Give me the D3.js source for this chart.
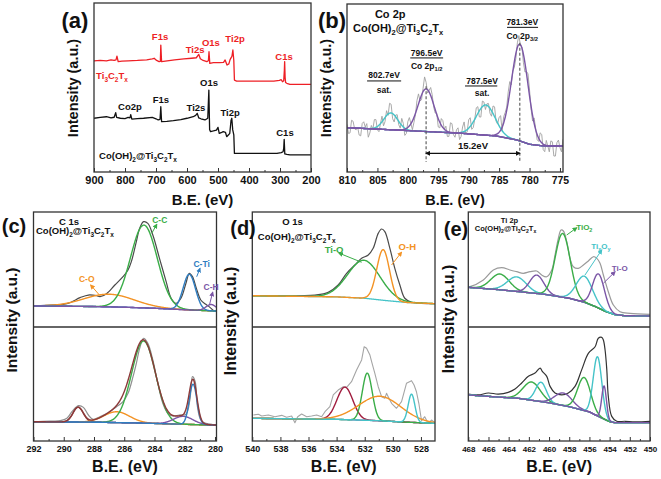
<!DOCTYPE html>
<html><head><meta charset="utf-8">
<script src="https://cdn.jsdelivr.net/npm/d3@7"></script>
<style>body{margin:0;background:#fff}svg{display:block;font-family:"Liberation Sans",Arial,sans-serif;font-weight:bold}</style>
</head><body><script>
// ---------------- DATA ----------------
// (a) survey spectra [B.E., intensity]
const surveyTicks=[900,800,700,600,500,400,300,200];
const surveyMinor=[850,750,650,550,450,350,250];
const surveyTi3C2Tx=[[900,65.7],[880,66.0],[860,65.8],[845,66.3],[835,66.0],[829,66.4],[826,68.6],[822,65.3],[810,65.6],[790,65.8],[760,66.0],[730,66.4],[712,67.0],[706,67.3],[698,66.0],[690,65.3],[686,65.5],[684.5,75.1],[682,65.3],[670,65.6],[640,66.3],[610,66.9],[585,67.3],[570,67.6],[562,69.6],[557,67.0],[548,66.0],[536,65.3],[531,65.8],[529,71.2],[526.5,64.3],[515,64.7],[495,64.7],[482,64.9],[477,66.3],[471,63.3],[465,64.0],[461,66.5],[458,67.5],[455,68.5],[452,72.2],[449,66.0],[447,54.4],[440,53.8],[320,53.8],[302,54.2],[296,54.6],[292,53.4],[288,54.0],[286,60.0],[285,65.3],[283.5,56.0],[282,53.0],[278,52.5],[268,51.9],[200,51.9]];
const surveyCoOH=[[900,31.8],[880,32.3],[860,32.7],[845,32.0],[835,32.4],[830,35.1],[827,32.3],[815,31.8],[800,31.6],[790,32.3],[784,32.0],[781.5,33.9],[778,31.3],[760,31.6],[740,31.8],[712,32.3],[700,31.5],[693,30.8],[687,31.2],[684.5,38.6],[682,29.8],[665,30.0],[644,30.4],[620,31.0],[600,31.8],[580,32.7],[572,33.5],[567,34.7],[562,32.0],[555,31.5],[542,30.8],[533,31.8],[529.5,48.5],[527,25.0],[524,23.9],[515,24.3],[505,24.8],[500,26.4],[496,22.9],[488,23.5],[483,23.9],[476,23.5],[472,20.9],[466,22.0],[462,22.9],[458,30.5],[455.5,31.8],[452.5,24.9],[449,22.0],[447,11.0],[440,11.0],[310,11.0],[296,11.5],[290,12.0],[288,14.0],[286.5,19.3],[284.5,10.7],[278,10.4],[268,10.1],[200,10.1]];

// (b) Co 2p
const coTicks=[810,805,800,795,790,785,780,775];
const coMinor=[807.5,802.5,797.5,792.5,787.5,782.5,777.5];
const coBaseline=[[810,26.4],[802,25.0],[791,23.0],[785.4,21.4],[782,19.0],[780,16.5],[777.7,15.5],[774.5,15.5]];
const coMainPeaks=[[797.0,25.4,3.1],[781.6,57.6,3.2]];   // [center, height, FWHM]
const coSatPeaks=[[802.8,10.0,2.7],[787.2,18.0,3.6]];
const coRaw=[[810,28.4],[809.75,22.9],[809.5,23.3],[809.25,30.8],[809,30.2],[808.75,25.7],[808.5,25.1],[808.25,26.6],[808,22.0],[807.75,21.5],[807.5,28.9],[807.25,29.9],[807,26.8],[806.75,28.8],[806.5,20.7],[806.25,23.2],[806,27.7],[805.75,25.5],[805.5,31.2],[805.25,31.2],[805,25.1],[804.75,24.0],[804.5,28.8],[804.25,33.2],[804,27.5],[803.75,30.0],[803.5,36.5],[803.25,33.7],[803,40.9],[802.75,40.3],[802.5,31.7],[802.25,29.8],[802,33.9],[801.75,34.1],[801.5,28.2],[801.25,26.1],[801,31.9],[800.75,28.9],[800.5,21.8],[800.25,22.9],[800,30.0],[799.75,32.4],[799.5,28.8],[799.25,25.2],[799,29.5],[798.75,34.1],[798.5,42.6],[798.25,46.5],[798,42.3],[797.75,43.0],[797.5,49.7],[797.25,56.6],[797,53.4],[796.75,47.0],[796.5,48.6],[796.25,50.3],[796,46.0],[795.75,38.6],[795.5,35.1],[795.25,35.0],[795,26.8],[794.75,26.3],[794.5,31.8],[794.25,30.6],[794,25.4],[793.75,27.3],[793.5,21.1],[793.25,21.2],[793,29.3],[792.75,28.8],[792.5,22.2],[792.25,20.7],[792,25.2],[791.75,26.3],[791.5,19.3],[791.25,21.1],[791,26.8],[790.75,29.8],[790.5,22.7],[790.25,23.9],[790,31.1],[789.75,32.3],[789.5,25.4],[789.25,26.5],[789,31.5],[788.75,38.2],[788.5,38.9],[788.25,32.8],[788,32.7],[787.75,42.2],[787.5,41.7],[787.25,37.2],[787,40.6],[786.75,40.8],[786.5,35.0],[786.25,33.2],[786,39.3],[785.75,38.8],[785.5,30.3],[785.25,28.5],[785,32.6],[784.75,33.5],[784.5,24.4],[784.25,32.9],[784,35.4],[783.75,38.6],[783.5,47.7],[783.25,53.8],[783,51.9],[782.75,60.1],[782.5,62.3],[782.25,67.6],[782,76.9],[781.75,81.2],[781.5,75.5],[781.25,74.3],[781,65.0],[780.75,59.5],[780.5,59.9],[780.25,58.4],[780,48.8],[779.75,37.6],[779.5,30.3],[779.25,32.2],[779,26.1],[778.75,19.2],[778.5,18.2],[778.25,23.3],[778,22.4],[777.75,13.3],[777.5,12.1],[777.25,18.8],[777,15.5],[776.75,12.0],[776.5,18.5],[776.25,18.0],[776,9.5],[775.75,9.5],[775.5,17.5],[775.25,19.0],[775,14.5],[774.75,12.0],[774.5,19.5]];

// (c) C 1s
const c1sTicks=[292,290,288,286,284,282,280];
const c1sMinor=[291,289,287,285,283,281];
const c1sTopBaseline=[[292,18.3],[288,17.8],[286,17.2],[284,16.3],[282,15.0],[280,13.9]];
const c1sTopPeaks=[[287.0,11.0,3.9],[284.7,72.0,2.08],[281.7,31.0,0.96],[280.25,5.5,0.8]];
const c1sTopRaw=[[292,18.5],[291.87,18.6],[289.79,20.3],[288.92,25.5],[288.37,27.8],[287.82,27.2],[287.6,26.4],[287.17,29.0],[286.62,36.5],[286.08,43.8],[285.75,49.6],[285.53,56.8],[285.2,74.2],[284.98,85.8],[284.72,91.6],[284.44,90.1],[284.11,80.0],[283.67,59.7],[283.23,39.4],[282.9,25.0],[282.58,20.6],[282.25,25.0],[281.92,38.0],[281.7,46.7],[281.49,43.8],[281.23,33.6],[280.94,23.5],[280.61,19.7],[280.39,17.7],[280.07,13.9]];
const c1sBotBaseline=[[292,16.9],[288,16.5],[285,15.8],[282,14.6],[280,14.0]];
const c1sBotPeaks=[[289.05,13.0,0.8],[286.5,9.5,2.0],[284.72,72.0,1.86],[282.1,7.0,1.5],[281.45,35.5,0.6]];
const c1sBotRaw=[[292,16.9],[290.89,17.5],[290.23,17.8],[289.79,19.9],[289.46,25.7],[289.03,31.0],[288.7,29.5],[288.37,22.8],[288.05,19.0],[287.61,21.3],[287.06,24.8],[286.51,30.1],[286.08,34.5],[285.75,41.8],[285.42,56.4],[285.2,68.1],[284.98,81.3],[284.72,90.1],[284.44,85.7],[284.11,71.1],[283.78,50.6],[283.45,33.1],[283.12,24.3],[282.8,21.9],[282.36,22.8],[281.92,23.4],[281.66,36.0],[281.49,56.4],[281.31,52.0],[281.16,30.1],[280.94,18.4],[280.61,15.5],[280.18,14.6]];

// (d) O 1s
const o1sTicks=[540,538,536,534,532,530,528];
const o1sMinor=[539,537,535,533,531,529];
const o1sTopBaseline=[[540,27.2],[534,26.2],[532,25.0],[530.5,23.0],[529,21.3],[527,20.3]];
const o1sTopPeaks=[[532.06,33.0,2.72],[530.69,44.0,1.07]];
const o1sTopRaw=[[540,27.2],[537.91,27.0],[535.54,27.8],[534.6,30.1],[533.89,36.5],[533.29,46.7],[532.7,53.9],[532.22,59.7],[531.75,62.6],[531.4,68.4],[531.04,81.4],[530.8,85.2],[530.57,82.9],[530.21,68.4],[529.86,51.0],[529.5,36.5],[529.15,25.0],[528.67,21.5],[527.96,20.6],[527,20.3]];
const o1sBotBaseline=[[540,19.9],[534,19.0],[531,17.8],[529,16.5],[527,15.5]];
const o1sBotPeaks=[[533.41,28.5,1.33],[531.82,41.4,0.83],[530.92,21.5,3.55],[528.67,24.7,0.57]];
const o1sBotRaw=[[539.93,22.8],[539.57,23.4],[539.33,21.9],[538.86,22.8],[538.39,21.3],[537.91,22.5],[537.56,20.8],[537.2,21.9],[536.97,16.1],[536.77,21.3],[536.49,23.7],[536.13,21.3],[535.78,21.9],[535.42,22.8],[535.07,21.3],[534.83,25.7],[534.48,30.1],[534.24,40.4],[533.89,44.7],[533.53,47.6],[533.29,47.1],[532.94,52.0],[532.58,62.3],[532.22,71.1],[532.04,82.7],[531.87,81.3],[531.63,75.4],[531.51,69.6],[531.28,59.4],[531.04,47.6],[530.8,38.9],[530.57,37.4],[530.45,41.8],[530.33,38.9],[530.09,33.1],[529.74,28.7],[529.38,34.5],[529.03,50.6],[528.67,52.9],[528.49,49.1],[528.32,43.2],[528.15,33.1],[527.96,17.8],[527.73,21.3],[527.49,15.5],[527.25,18.4],[527.01,16.1]];

// (e) Ti 2p
const ti2pTicks=[468,466,464,462,460,458,456,454,452,450];
const ti2pMinor=[467,465,463,461,459,457,455,453,451];
const ti2pTopBaseline=[[468,34.5],[465,32.5],[463,30.7],[460.5,28.5],[458,25.0],[456.5,21.5],[455.4,17.7],[454.4,13.5],[453.5,10.8],[452.5,9.8],[450,9.6]];
const ti2pTopPeaks=[[464.86,13.7,2.15],[463.2,12.7,2.2],[461.22,16.0,1.65],[458.65,55.4,1.75],[456.5,22.7,1.9],[455.1,29.7,1.39]];
const ti2pTopRaw=[[468,35.0],[467.83,35.1],[466.51,40.9],[465.52,49.6],[464.69,51.6],[463.87,49.6],[463.2,48.1],[462.55,46.7],[461.88,48.1],[461.22,48.7],[460.73,45.2],[460.23,43.7],[459.73,49.6],[459.41,62.6],[459.08,77.1],[458.81,84.3],[458.58,83.5],[458.25,74.2],[457.92,59.7],[457.59,52.4],[457.1,51.0],[456.6,53.9],[456.11,57.4],[455.61,61.1],[455.27,59.7],[454.95,55.4],[454.62,45.2],[454.13,30.7],[453.63,19.1],[452.97,13.3],[451.97,11.9],[449.99,11.0]];
const ti2pBotBaseline=[[468,40.4],[465,38.5],[463,37.4],[460,33.5],[458,30.1],[456,25.5],[455.4,22.8],[454.5,19.0],[454,17.0],[453.5,16.1],[450,16.1]];
const ti2pBotPeaks=[[461.72,16.0,2.0],[460.8,17.0,1.25],[458.58,11.0,2.0],[456.53,29.0,1.5],[455.2,52.0,1.0],[454.55,29.0,0.55]];
const ti2pBotRaw=[[468,41.2],[467.01,40.4],[466.02,42.1],[465.03,41.2],[464.04,42.7],[463.37,45.6],[462.71,50.9],[462.05,56.7],[461.39,59.6],[460.89,64.0],[460.67,61.1],[460.23,56.7],[459.9,47.9],[459.41,42.1],[458.74,40.4],[458.09,42.1],[457.43,47.9],[456.76,62.6],[456.11,76.9],[455.44,82.7],[455.12,90.1],[454.78,90.9],[454.62,88.6],[454.45,79.8],[454.28,62.6],[454.13,39.2],[453.79,21.6],[453.29,17.3],[452.47,17.3],[451.48,16.7],[449.83,17.3]];

// ---------------- STYLE ----------------
const C={purple:"#7b56a6",cyan:"#45c3c8",green:"#3aad48",orange:"#f39325",blue:"#2f7dc0",crimson:"#a01c3e",brown:"#8c3a3a",gray:"#8f8f8f",dark:"#4a4a4a",red:"#ee1f25",black:"#111",frame:"#333"};
const formula=[["Co(OH)",0],["2",1],["@Ti",0],["3",1],["C",0],["2",1],["T",0],["x",1]];
const tiFormula=[["Ti",0],["3",1],["C",0],["2",1],["T",0],["x",1]];

const W=661,H=479;
const svg=d3.select("body").append("svg").attr("width",W).attr("height",H);
const defs=svg.append("defs");
function marker(id,color){
  defs.append("marker").attr("id",id).attr("viewBox","0 0 10 10").attr("refX",8).attr("refY",5)
    .attr("markerWidth",5).attr("markerHeight",5).attr("markerUnits","userSpaceOnUse").attr("orient","auto-start-reverse")
    .append("path").attr("d","M0,0L10,5L0,10z").attr("fill",color);
}
Object.keys(C).forEach(k=>marker("m-"+k,C[k]));

function gauss(E,p){return p[1]*Math.exp(-4*Math.LN2*(E-p[0])*(E-p[0])/(p[2]*p[2]));}

function addText(g,x,y,parts,size,color,anchor){
  const t=g.append("text").attr("x",x).attr("y",y+size*0.35).attr("font-size",size).attr("fill",color||"#111").attr("text-anchor",anchor||"middle");
  if(typeof parts==="string"){t.text(parts);return t;}
  let sub=false;
  parts.forEach(([s,isSub])=>{
    const ts=t.append("tspan").text(s).attr("font-size",isSub?size*0.68:size);
    if(isSub&&!sub) ts.attr("dy",size*0.28);
    if(!isSub&&sub) ts.attr("dy",-size*0.28);
    sub=!!isSub;
  });
  return t;
}

let clipN=0;
function panelFrame(L,dom,ticks,minor,tickFont,pad){
  const x=d3.scaleLinear().domain(dom).range([L.x0,L.x1]);
  const ax=svg.append("g").attr("transform",`translate(0,${L.bottom})`);
  ax.call(d3.axisBottom(x).tickValues(ticks).tickSize(-4).tickPadding(pad).tickFormat(d3.format("d")));
  ax.selectAll(".domain").remove();
  ax.selectAll("text").attr("font-size",tickFont).attr("font-family","Liberation Sans, Arial").attr("font-weight","bold").attr("fill","#111");
  ax.selectAll("line").attr("stroke",C.frame).attr("stroke-width",1);
  const am=svg.append("g").attr("transform",`translate(0,${L.bottom})`);
  am.call(d3.axisBottom(x).tickValues(minor).tickSize(-2).tickFormat(""));
  am.selectAll(".domain").remove();
  am.selectAll("line").attr("stroke",C.frame).attr("stroke-width",1);
  return x;
}
function drawBorder(L){
  svg.append("rect").attr("x",L.x0).attr("y",L.top).attr("width",L.xr-L.x0).attr("height",L.bottom-L.top)
    .attr("fill","none").attr("stroke",C.frame).attr("stroke-width",1.3);
  if(L.mid) svg.append("line").attr("x1",L.x0).attr("x2",L.xr).attr("y1",L.mid).attr("y2",L.mid).attr("stroke",C.frame).attr("stroke-width",1.3);
}
function band(x,top,bottom,xr){
  const y=d3.scaleLinear().domain([0,100]).range([bottom,top]);
  const id="clip"+(clipN++);
  svg.append("clipPath").attr("id",id).append("rect").attr("x",x.range()[0]).attr("y",top).attr("width",xr-x.range()[0]).attr("height",bottom-top);
  const g=svg.append("g").attr("clip-path",`url(#${id})`);
  return {x,y,g};
}
function drawLine(B,data,color,w,curve){
  const line=d3.line().x(d=>B.x(d[0])).y(d=>B.y(d[1])).curve(curve||d3.curveLinear);
  B.g.append("path").datum(data).attr("d",line).attr("fill","none").attr("stroke",color).attr("stroke-width",w).attr("stroke-linejoin","round");
}
function fitSet(B,baseline,peaks,colors,baseColor,envColor){
  const bl=d3.scaleLinear().domain(baseline.map(d=>d[0])).range(baseline.map(d=>d[1])).clamp(true);
  const [a,b]=B.x.domain();
  const grid=d3.range(0,401).map(i=>a+(b-a)*i/400);
  const smooth=d3.curveMonotoneX;
  drawLine(B,grid.map(E=>[E,bl(E)]),baseColor,1.3,smooth);
  peaks.forEach((p,i)=>drawLine(B,grid.map(E=>[E,bl(E)+gauss(E,p)]),colors[i],1.4,smooth));
  if(envColor) drawLine(B,grid.map(E=>[E,bl(E)+d3.sum(peaks,p=>gauss(E,p))]),envColor,1.4,smooth);
}
function arrow(B,E1,v1,E2,v2,color){
  B.g.append("line").attr("x1",B.x(E1)).attr("y1",B.y(v1)).attr("x2",B.x(E2)).attr("y2",B.y(v2))
    .attr("stroke",C[color]).attr("stroke-width",1).attr("marker-end",`url(#m-${color})`);
}
function label(B,E,v,parts,size,color,anchor){addText(svg,B.x(E),B.y(v),parts,size,color,anchor);}
function titles(L,ylabX,ylabY,ySize,xTitleY,xSize,letter,lx,ly,lSize){
  addText(svg,(L.x0+L.xr)/2,xTitleY,"B.E. (eV)",xSize,"#111");
  svg.append("text").attr("transform",`translate(${ylabX+ySize*0.35},${ylabY}) rotate(-90)`).attr("text-anchor","middle")
    .attr("font-size",ySize).attr("fill","#111").text("Intensity (a.u.)");
  addText(svg,lx,ly,letter,lSize,"#111");
}

// ---------------- PANEL (a) ----------------
{
  const L={x0:94,x1:311,xr:311,top:3,bottom:172};
  const x=panelFrame(L,[900,200],surveyTicks,surveyMinor,11,4);
  const B=band(x,L.top,L.bottom,L.xr);
  drawLine(B,surveyTi3C2Tx,C.red,1.3);
  drawLine(B,surveyCoOH,C.black,1.3);
  drawBorder(L);
  [["F1s",687,79.9],["Ti2s",574,72.2],["O1s",523,76.3],["Ti2p",445,78.7],["C1s",287,68.0]].forEach(d=>label(B,d[1],d[2],d[0],9.5,C.red));
  label(B,842,56.8,tiFormula,9.5,C.red);
  [["Co2p",784,38.5],["F1s",684,42.6],["Ti2s",571,37.9],["O1s",529,52.7],["Ti2p",461,34.9],["C1s",284,23.1]].forEach(d=>label(B,d[1],d[2],d[0],9.5,"#111"));
  label(B,758,9.5,formula,9.5,"#111");
  titles(L,73,88,14.5,200,15,"(a)",75,20,22);
}

// ---------------- PANEL (b) ----------------
{
  const L={x0:347,x1:563,xr:563,top:4,bottom:172};
  const x=panelFrame(L,[810,774.5],coTicks,coMinor,10.5,5);
  const B=band(x,L.top,L.bottom,L.xr);
  drawLine(B,coRaw,"#a0a0a0",0.9);
  fitSet(B,coBaseline,coSatPeaks,[C.cyan,C.cyan],C.purple,null);
  fitSet(B,coBaseline,coMainPeaks,[C.purple,C.purple],C.purple,null);
  [[797.0,51],[781.6,77]].forEach(d=>{
    B.g.append("line").attr("x1",x(d[0])).attr("x2",x(d[0])).attr("y1",B.y(d[1])).attr("y2",B.y(6)).attr("stroke","#555").attr("stroke-width",1.1).attr("stroke-dasharray","3,2");
  });
  B.g.append("line").attr("x1",x(797.0)).attr("x2",x(781.6)).attr("y1",B.y(11.1)).attr("y2",B.y(11.1))
    .attr("stroke",C.black).attr("stroke-width",1.3).attr("marker-start","url(#m-black)").attr("marker-end","url(#m-black)");
  drawBorder(L);
  label(B,789.3,15.6,"15.2eV",9.5,"#111");
  label(B,802.9,94,"Co 2p",11,"#111");
  label(B,801.6,85.7,formula,11,"#111");
  const peakLab=[[781.2,89.3,"781.3eV",[["Co 2p",0],["3/2",1]],783.7,778.6,86.1,81.0],
                 [796.9,70.8,"796.5eV",[["Co 2p",0],["1/2",1]],799.6,794.2,67.9,63.1],
                 [803.9,57.7,"802.7eV","sat.",806.7,801.1,54.2,48.8],
                 [787.8,54.2,"787.5eV","sat.",790.6,785.3,51.2,47.0]];
  peakLab.forEach(p=>{
    label(B,p[0],p[1],p[2],8.5,"#111");
    svg.append("line").attr("x1",x(p[4])).attr("x2",x(p[5])).attr("y1",B.y(p[6])).attr("y2",B.y(p[6])).attr("stroke","#111").attr("stroke-width",1);
    label(B,p[0],p[7],p[3],8.5,"#111");
  });
  titles(L,326,88,14.5,200,14.5,"(b)",332,20,22);
}

// ---------------- PANEL (c) ----------------
{
  const L={x0:33.5,x1:216.5,xr:216.5,top:212,mid:327,bottom:441};
  const x=panelFrame(L,[292,279.9],c1sTicks,c1sMinor,9,4.8);
  const T=band(x,L.top,L.mid,L.xr), Bt=band(x,L.mid,L.bottom,L.xr);
  drawLine(T,c1sTopRaw,C.dark,1.2,d3.curveCatmullRom);
  fitSet(T,c1sTopBaseline,c1sTopPeaks,[C.orange,C.green,C.blue,C.purple],C.purple,null);
  drawLine(Bt,c1sBotRaw,C.gray,1.2,d3.curveCatmullRom);
  fitSet(Bt,c1sBotBaseline,c1sBotPeaks,[C.brown,C.orange,C.green,C.purple,C.blue],C.cyan,C.brown);
  arrow(T,284.18,81.5,283.85,89.3,"green");
  arrow(T,281.21,43.7,280.99,51.0,"blue");
  arrow(T,280.37,19.1,280.15,30.2,"purple");
  arrow(T,287.6,27.2,288.22,36.5,"orange");
  drawBorder(L);
  label(T,289.65,91.7,"C 1s",9.5,"#111");
  label(T,289.26,83.5,formula,9.5,"#111");
  label(T,283.65,93.0,"C-C",8.5,C.green);
  label(T,280.88,54.6,"C-Ti",8.5,C.blue);
  label(T,280.26,34.6,"C-H",8.5,C.purple);
  label(T,288.48,41.7,"C-O",8.5,C.orange);
  titles(L,12,320,15.5,466,16,"(c)",14,226,20);
}

// ---------------- PANEL (d) ----------------
{
  const L={x0:252.3,x1:435,xr:435,top:212,mid:327,bottom:441};
  const x=panelFrame(L,[540,527],o1sTicks,o1sMinor,9,4.8);
  const T=band(x,L.top,L.mid,L.xr), Bt=band(x,L.mid,L.bottom,L.xr);
  drawLine(T,o1sTopRaw,C.dark,1.2,d3.curveCatmullRom);
  fitSet(T,o1sTopBaseline,o1sTopPeaks,[C.green,C.orange],C.cyan,null);
  drawLine(Bt,o1sBotRaw,"#a5a5a5",1.1);
  fitSet(Bt,o1sBotBaseline,o1sBotPeaks,[C.crimson,C.green,C.orange,C.cyan],C.purple,null);
  arrow(T,532.22,56.3,533.84,64.3,"green");
  arrow(T,530.09,53.9,529.38,65.0,"orange");
  drawBorder(L);
  label(T,537.14,91.9,"O 1s",9.5,"#111");
  label(T,536.84,78.5,formula,9.5,"#111");
  label(T,534.18,67.0,"Ti-O",9.5,C.green);
  label(T,528.97,69.8,"O-H",9.5,C.orange);
  titles(L,230,321,16,466,16,"(d)",243,228,20);
}

// ---------------- PANEL (e) ----------------
{
  const L={x0:468.3,x1:650,xr:650,top:212,mid:327,bottom:441};
  const x=panelFrame(L,[468,450],ti2pTicks,ti2pMinor,8,5.2);
  const T=band(x,L.top,L.mid,L.xr), Bt=band(x,L.mid,L.bottom,L.xr);
  drawLine(T,ti2pTopRaw,"#9a9a9a",1.2,d3.curveCatmullRom);
  fitSet(T,ti2pTopBaseline,ti2pTopPeaks,[C.green,C.cyan,C.purple,C.green,C.cyan,C.purple],C.purple,null);
  drawLine(Bt,ti2pBotRaw,"#333",1.2,d3.curveCatmullRom);
  fitSet(Bt,ti2pBotBaseline,ti2pBotPeaks,[C.green,C.cyan,C.purple,C.green,C.cyan,C.purple],C.purple,null);
  arrow(T,458.25,80.0,457.26,86.3,"green");
  arrow(T,456.44,45.2,454.78,67.0,"cyan");
  arrow(T,454.62,38.0,453.46,48.1,"purple");
  drawBorder(L);
  label(T,463.92,92.6,"Ti 2p",7.5,"#111");
  label(T,464.31,85.5,formula,7.5,"#111");
  label(T,456.51,87.2,[["TiO",0],["2",1]],8,C.green);
  label(T,454.87,70.6,[["Ti",0],["x",1],["O",0],["y",1]],8,C.cyan);
  label(T,453.0,51.3,"Ti-O",8,C.purple);
  titles(L,448,319,16,466,16,"(e)",456,229,20);
}
</script></body></html>
